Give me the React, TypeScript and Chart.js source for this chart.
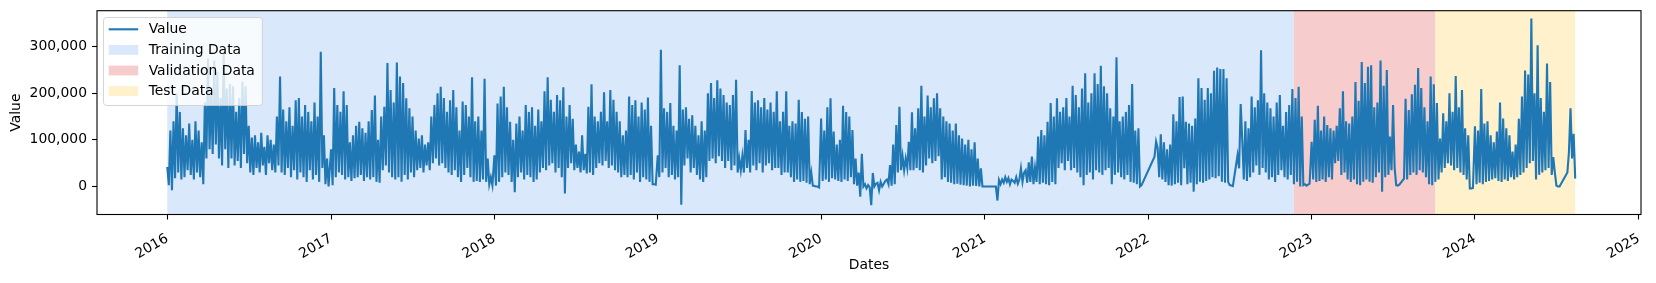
import { useEffect, useRef } from 'react';
import { Chart, registerables } from 'chart.js';

Chart.register(...registerables);

// ---------------- data ----------------
const seriesName = 'Value';
const valueUnit = 1000; // values below are in thousands
const stepDays = 3.5; // spacing of samples inside each year
const yearStarts = ['2016-01-01', '2017-01-01', '2018-01-01', '2019-01-01', '2020-01-01', '2021-01-01', '2022-01-01', '2023-01-01', '2024-01-01'];

const values2016 = [42, 3, 120, -8, 140, 18, 200, 30, 160, 15, 125, 20, 110, 35, 135, 25, 100, 15, 140, 30, 120, 20, 95, 5, 180, 60, 275, 80, 200, 70, 270, 90, 245, 60, 190, 45, 287, 80, 210, 40, 220, 60, 215, 45, 160, 55, 190, 40, 225, 70, 215, 50, 130, 30, 105, 25, 110, 40, 95, 30, 115, 45, 85, 25, 110, 50, 100, 35, 90, 30, 150, 45, 236, 30, 165, 25, 140, 40, 170, 20, 130, 35, 185, 15, 190, 30, 150, 20, 175, 10, 160, 35, 140, 15, 180, 25, 150, 10, 289, 40, 110, 5, 60, 0];
const values2017 = [80, 3, 211, 20, 175, 30, 160, 25, 204, 15, 175, 20, 95, 12, 110, 18, 130, 20, 139, 25, 125, 12, 115, 20, 140, 15, 164, 20, 195, 10, 100, 8, 150, 35, 171, 45, 265, 30, 207, 20, 180, 15, 266, 20, 236, 10, 222, 25, 189, 15, 168, 30, 150, 20, 120, 35, 103, 40, 110, 30, 90, 45, 95, 35, 150, 50, 175, 60, 200, 45, 214, 50, 190, 40, 160, 30, 185, 25, 207, 35, 170, 20, 120, 10, 182, 25, 175, 40, 150, 20, 234, 10, 140, 12, 150, 10, 120, 15, 231, 10, 60, 5, 20, 3];
const values2018 = [67, 2, 178, 10, 193, 20, 214, 30, 170, 25, 139, 10, 100, -12, 135, 20, 150, 30, 120, 15, 175, 25, 160, 20, 170, 10, 130, 15, 165, 30, 140, 40, 204, 35, 234, 45, 186, 50, 160, 30, 196, 40, 185, 20, 213, -15, 150, 40, 175, 50, 145, 35, 90, 40, 75, 30, 110, 35, 70, 28, 171, 30, 219, 25, 150, 40, 140, 50, 160, 45, 202, 55, 140, 40, 207, 45, 186, 35, 160, 30, 140, 20, 110, 25, 120, 20, 193, 25, 175, 15, 185, 30, 150, 10, 180, 20, 165, 15, 191, 10, 130, 5, 5, 4];
const values2019 = [67, 20, 293, 30, 168, 40, 160, 20, 179, 25, 130, 15, 120, 20, 260, -39, 165, 45, 170, 60, 145, 30, 153, 40, 130, 25, 110, 15, 140, 10, 120, 20, 200, 55, 222, 60, 190, 50, 228, 65, 210, 55, 196, 40, 180, 55, 175, 35, 196, 45, 229, 30, 60, 35, 65, 30, 121, 40, 100, 30, 205, 45, 180, 35, 185, 50, 170, 30, 190, 45, 165, 50, 180, 35, 160, 40, 204, 40, 140, 25, 160, 30, 204, 30, 130, 20, 140, 10, 135, 15, 186, 10, 160, 12, 145, 8, 150, 5, 30, 2, 1, 0, 0, -2];
const values2020 = [146, 12, 120, 15, 170, 10, 189, 18, 118, 15, 90, 12, 100, 10, 173, 15, 160, 12, 150, 20, 121, 5, 60, 2, 30, -22, 70, 0, 5, -4, 3, -2, -40, 29, 0, 6, 8, -8, 10, 0, 6, 12, 15, 5, 46, 2, 90, 5, 132, 30, 171, 35, 65, 35, 60, 40, 96, 35, 159, 35, 125, 40, 168, 35, 216, 30, 150, 45, 195, 60, 170, 50, 189, 55, 200, 65, 168, 15, 150, 20, 140, 10, 135, 8, 120, 5, 135, 6, 110, 4, 103, 3, 90, 2, 100, 0, 80, 2, 95, 1, 60, 0, 39, 0];
const values2021 = [null, null, null, null, null, null, null, 0, -30, 14, 5, 15, 8, 20, 10, 18, 5, 15, 12, 8, 20, 6, 15, 39, 10, 30, 35, 8, 52, 10, 64, 5, 40, 10, 107, 5, 121, 8, 110, 5, 139, 3, 179, 10, 150, 5, 189, 40, 160, 50, 170, 35, 190, 55, 150, 35, 216, 40, 196, 30, 170, 20, 210, 3, 243, 25, 180, 30, 200, 15, 243, 35, 220, 30, 259, 25, 215, 35, 200, 40, 168, 5, 150, 25, 277, 30, 140, 20, 150, 15, 160, 25, 175, 10, 220, 8, 120, 5, 125, 0, 3, null, null, null];
const values2022 = [null, null, null, null, 64, 96, 82, 20, 112, 15, 95, 10, 80, 3, 90, 2, 155, 5, 140, 8, 192, 3, 193, 39, 139, 5, 135, 8, 130, -11, 146, 5, 232, 10, 211, 8, 186, 12, 211, 15, 200, 20, 248, 18, 255, 22, 252, 10, 252, 8, 232, 10, 3, 2, 1, null, null, 67, 39, 177, 100, 15, 140, 12, 125, 20, 193, 30, 170, 45, 185, 25, 292, 40, 200, 30, 180, 15, 168, 20, 150, 10, 180, 25, 196, 35, 130, 20, 160, 15, 175, 25, 209, 5, 190, 10, 214, 0, 150, 3, 5, 2, 4, 6];
const values2023 = [96, 15, 143, 10, 173, 12, 120, 15, 150, 10, 132, 20, 125, 15, 120, 50, 130, 55, 168, 25, 204, 30, 140, 15, 135, 10, 150, 15, 224, 5, 184, 3, 267, 10, 222, 15, 257, 10, 260, 8, 170, 20, 180, 30, 270, -11, 216, 20, 250, 25, 107, 35, 175, 40, 3, 2, 4, null, null, 17, 188, 15, 164, 25, 198, 30, 218, 25, 254, 35, 211, 30, 170, 20, 140, 5, 236, 3, 219, 10, 179, 15, 103, 30, 157, 40, 140, 50, 200, 45, 160, 35, 237, 40, 170, 30, 207, 25, 125, 15, 110, -4, -4, -3];
const values2024 = [129, 5, 120, 8, 209, 5, 135, 10, 140, 12, 110, 15, 95, 18, 118, 12, 180, 10, 146, 15, 125, 12, 110, 20, 75, 15, 90, 20, 145, 25, 193, 30, 249, 40, 240, 50, 360, 55, 200, 15, 303, 25, 190, 30, 160, 35, 264, 40, 224, 25, 63, 30, 2, 0, 0, null, null, null, null, 30, 74, 168, 60, 113, 17];
const yearlyValues = [values2016, values2017, values2018, values2019, values2020, values2021, values2022, values2023, values2024];

const periodLabels = ['Training Data', 'Validation Data', 'Test Data'];
const periodStarts = ['2016-01-01', '2022-11-22', '2023-10-04'];
const periodEnds = ['2022-11-22', '2023-10-04', '2024-08-12'];

const xTickYears = [2016, 2017, 2018, 2019, 2020, 2021, 2022, 2023, 2024, 2025];
const yTickValues = [0, 100000, 200000, 300000];

// ---------------- styling ----------------
const LINE_COLOR = '#1f77b4';
const PERIOD_COLORS = ['rgb(218,232,251)', 'rgb(246,205,204)', 'rgb(255,241,204)'];
const FONT_FAMILY = '"DejaVu Sans", sans-serif';
const FONT_SIZE = 13.9;

const DAY_MS = 86400000;
const ORIGIN = Date.UTC(2016, 0, 1);
function dayOf(s: string): number {
  const [y, m, d] = s.split('-').map(Number);
  return (Date.UTC(y, m - 1, d) - ORIGIN) / DAY_MS;
}

function buildPoints() {
  const pts: { x: number; y: number | null }[] = [];
  yearlyValues.forEach((vals, k) => {
    const base = dayOf(yearStarts[k]);
    vals.forEach((v, i) => {
      pts.push({ x: base + i * stepDays, y: v === null ? null : (v as number) * valueUnit });
    });
  });
  return pts;
}

const shadePlugin = {
  id: 'periodShade',
  beforeDatasetsDraw(chart: any) {
    const { ctx, chartArea, scales } = chart;
    const xs = scales.x;
    ctx.save();
    periodLabels.forEach((_, i) => {
      const x0 = xs.getPixelForValue(dayOf(periodStarts[i]));
      const x1 = xs.getPixelForValue(dayOf(periodEnds[i]));
      ctx.fillStyle = PERIOD_COLORS[i];
      ctx.fillRect(x0, chartArea.top, x1 - x0, chartArea.bottom - chartArea.top);
    });
    ctx.restore();
  },
};

const framePlugin = {
  id: 'frame',
  afterDatasetsDraw(chart: any) {
    const { ctx, chartArea } = chart;
    ctx.save();
    ctx.strokeStyle = '#000';
    ctx.lineWidth = 1.1;
    ctx.strokeRect(chartArea.left, chartArea.top, chartArea.right - chartArea.left, chartArea.bottom - chartArea.top);
    ctx.restore();
  },
};

const legendPlugin = {
  id: 'mplLegend',
  afterDraw(chart: any) {
    const { ctx, chartArea } = chart;
    const labels = [seriesName, ...periodLabels];
    ctx.save();
    ctx.font = `${FONT_SIZE}px ${FONT_FAMILY}`;
    const maxW = Math.max(...labels.map((l) => ctx.measureText(l).width));
    const left = chartArea.left + 6.5;
    const top = chartArea.top + 6.8;
    const handleX = left + 5.2;
    const handleLen = 29.5;
    const textX = handleX + handleLen + 10.5;
    const width = textX - left + maxW + 7.5;
    const height = 88;
    const r = 3;
    ctx.beginPath();
    ctx.moveTo(left + r, top);
    ctx.lineTo(left + width - r, top);
    ctx.arcTo(left + width, top, left + width, top + r, r);
    ctx.lineTo(left + width, top + height - r);
    ctx.arcTo(left + width, top + height, left + width - r, top + height, r);
    ctx.lineTo(left + r, top + height);
    ctx.arcTo(left, top + height, left, top + height - r, r);
    ctx.lineTo(left, top + r);
    ctx.arcTo(left, top, left + r, top, r);
    ctx.closePath();
    ctx.fillStyle = 'rgba(255,255,255,0.8)';
    ctx.fill();
    ctx.strokeStyle = 'rgba(204,204,204,0.8)';
    ctx.lineWidth = 1;
    ctx.stroke();

    labels.forEach((label, i) => {
      const cy = top + 11.8 + i * 20.6;
      if (i === 0) {
        ctx.strokeStyle = LINE_COLOR;
        ctx.lineWidth = 2.1;
        ctx.beginPath();
        ctx.moveTo(handleX, cy);
        ctx.lineTo(handleX + handleLen, cy);
        ctx.stroke();
      } else {
        ctx.fillStyle = PERIOD_COLORS[i - 1];
        ctx.fillRect(handleX, cy - 4.9, handleLen, 9.8);
      }
      ctx.fillStyle = '#000';
      ctx.textBaseline = 'middle';
      ctx.textAlign = 'left';
      ctx.fillText(label, textX, cy + 0.5);
    });
    ctx.restore();
  },
};

export default function App() {
  const ref = useRef<HTMLCanvasElement>(null);
  useEffect(() => {
    if (!ref.current) return;
    Chart.defaults.font.family = FONT_FAMILY;
    Chart.defaults.font.size = FONT_SIZE;
    Chart.defaults.color = '#000';
    const xTickDays = xTickYears.map((y) => dayOf(`${y}-01-01`));
    const xMin = -157;
    const xMax = 3293;
    const dataMin = -40000;
    const dataMax = 360000;
    const yMargin = (dataMax - dataMin) * 0.05;

    const chart = new Chart(ref.current, {
      type: 'line',
      data: {
        datasets: [
          {
            label: seriesName,
            data: buildPoints() as any,
            borderColor: LINE_COLOR,
            borderWidth: 2.1,
            pointRadius: 0,
            spanGaps: true,
            tension: 0,
            fill: false,
          },
        ],
      },
      options: {
        animation: false,
        responsive: false,
        devicePixelRatio: 1,
        layout: { padding: { left: 0, right: 15, top: 10.7, bottom: 0 } },
        plugins: { legend: { display: false }, tooltip: { enabled: false } },
        scales: {
          x: {
            type: 'linear',
            min: xMin,
            max: xMax,
            afterBuildTicks: (s: any) => {
              s.ticks = xTickDays.map((v) => ({ value: v }));
            },
            afterFit: (s: any) => {
              s.height = 68.5;
              s.paddingLeft = 0;
              s.paddingRight = 0;
            },
            ticks: {
              autoSkip: false,
              maxRotation: 30,
              minRotation: 30,
              padding: 11,
              color: '#000',
              callback: (_v: any, i: number) => String(xTickYears[i]),
            },
            grid: { drawOnChartArea: false, drawTicks: true, tickLength: 5, tickColor: '#000', tickWidth: 1.1 },
            border: { display: false },
            title: { display: true, text: 'Dates', color: '#000', padding: { top: 0, bottom: 9.6 } },
          },
          y: {
            type: 'linear',
            min: dataMin - yMargin,
            max: dataMax + yMargin - 3000,
            afterBuildTicks: (s: any) => {
              s.ticks = yTickValues.map((v) => ({ value: v }));
            },
            afterFit: (s: any) => {
              s.width = 97;
              s.paddingTop = 0;
              s.paddingBottom = 0;
            },
            ticks: {
              padding: 5,
              color: '#000',
              callback: (v: any) => Number(v).toLocaleString('en-US'),
            },
            grid: { drawOnChartArea: false, drawTicks: true, tickLength: 5, tickColor: '#000', tickWidth: 1.1 },
            border: { display: false },
            title: { display: true, text: 'Value', color: '#000', padding: { top: 7.6, bottom: 0 } },
          },
        },
      },
      plugins: [shadePlugin, framePlugin, legendPlugin],
    });
    return () => chart.destroy();
  }, []);

  return (
    <div style={{ position: 'fixed', left: 0, top: 0, width: 1656, height: 283, background: '#fff' }}>
      <canvas ref={ref} width={1656} height={283} style={{ width: 1656, height: 283, display: 'block' }} />
    </div>
  );
}
